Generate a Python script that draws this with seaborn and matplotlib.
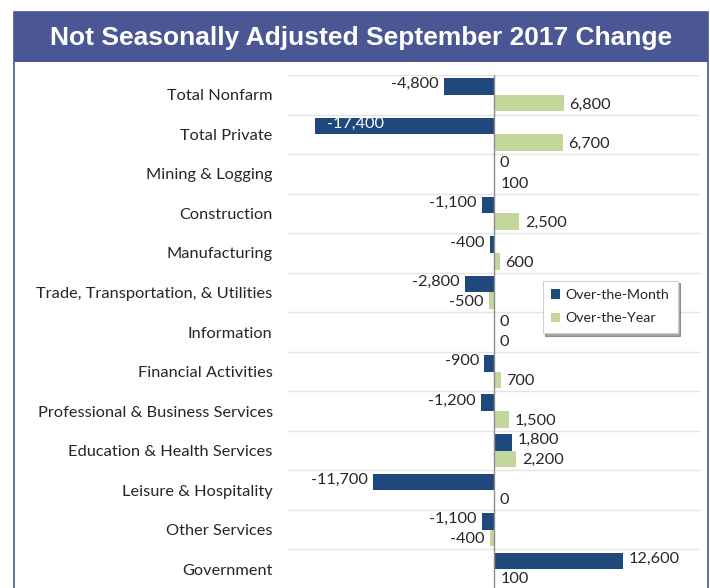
import matplotlib
matplotlib.use("Agg")
import matplotlib.pyplot as plt
import seaborn as sns
import pandas as pd
from matplotlib.patches import Rectangle

categories = ["Total Nonfarm", "Total Private", "Mining & Logging", "Construction",
              "Manufacturing", "Trade, Transportation, & Utilities", "Information",
              "Financial Activities", "Professional & Business Services",
              "Education & Health Services", "Leisure & Hospitality",
              "Other Services", "Government"]
over_month = [-4800, -17400, 0, -1100, -400, -2800, 0, -900, -1200, 1800, -11700, -1100, 12600]
over_year = [6800, 6700, 100, 2500, 600, -500, 0, 700, 1500, 2200, 0, -400, 100]
series_names = ["Over-the-Month", "Over-the-Year"]
title = "Not Seasonally Adjusted September 2017 Change"

BLUE = "#1f497d"
GREEN = "#c3d69b"
BANNER = "#4a5794"

df = pd.DataFrame({
    "category": categories * 2,
    "value": over_month + over_year,
    "series": [series_names[0]] * len(categories) + [series_names[1]] * len(categories),
})

sns.set_theme(style="white")
plt.rcParams["font.family"] = ["Lato", "DejaVu Sans"]

W, H = 710, 588
fig = plt.figure(figsize=(W / 100, H / 100), dpi=100)
ax = fig.add_axes([288 / W, 1 - 589 / H, 411.5 / W, 514 / H])

sns.barplot(data=df, y="category", x="value", hue="series", orient="h",
            palette=[BLUE, GREEN], width=0.84, gap=0, ax=ax, saturation=1,
            linewidth=0, legend=True)

ax.set_xlim(-20000, 20000)
ax.set_ylim(len(categories) - 0.5, -0.5)
ax.set_xlabel("")
ax.set_ylabel("")
ax.set_xticks([])
ax.tick_params(axis="y", length=0, pad=11, labelsize=11.8, labelcolor="#262626")

# horizontal gridlines at category boundaries
for b in [i - 0.5 for i in range(len(categories) + 1)]:
    ax.axhline(b, color="#e4e4e4", lw=1, zorder=0)
ax.axvline(0, color="#8c8c8c", lw=1, zorder=3)
for s in ax.spines.values():
    s.set_visible(False)

# data labels
values_by_series = [over_month, over_year]
for si, cont in enumerate(ax.containers[:2]):
    vals = values_by_series[si]
    dy = 1.5 if si == 0 else -1.0
    for bar, v in zip(cont, vals):
        yc = bar.get_y() + bar.get_height() / 2
        txt = f"{v:,}"
        if v < -15000:
            ax.annotate(txt, (bar.get_x() + bar.get_width(), yc), xytext=(9, dy),
                        textcoords="offset points", ha="left", va="center",
                        fontsize=11.7, color="white")
        elif v < 0:
            ax.annotate(txt, (v, yc), xytext=(-4, dy), textcoords="offset points",
                        ha="right", va="center", fontsize=11.7, color="#262626")
        else:
            ax.annotate(txt, (v, yc), xytext=(4, dy), textcoords="offset points",
                        ha="left", va="center", fontsize=11.7, color="#262626")

leg = ax.legend(loc="upper left", bbox_to_anchor=(0.619, 0.60), borderaxespad=0,
                frameon=True, fancybox=False, shadow=True, fontsize=10.2,
                handlelength=0.65, handleheight=0.65, handletextpad=0.35,
                labelspacing=0.8, borderpad=0.6)
leg.get_frame().set_edgecolor("#d0d0d0")
leg.get_frame().set_linewidth(0.8)
for t in leg.get_texts():
    t.set_color("#262626")

# frame and title banner
fig.patches.append(Rectangle((14 / W, -0.01), (708 - 14) / W, 1 - 12 / H + 0.01,
                             transform=fig.transFigure, facecolor="none",
                             edgecolor=BANNER, lw=1.2, zorder=0))
fig.patches.append(Rectangle((14 / W, 1 - 62 / H), (708 - 14) / W, 50 / H,
                             transform=fig.transFigure, facecolor=BANNER,
                             edgecolor="none", zorder=1))
fig.text(361 / W, 1 - 38 / H, title, ha="center", va="center", color="white",
         fontsize=19, fontweight="bold", family=["Liberation Sans", "DejaVu Sans"])

fig.savefig("out.png", dpi=100)
